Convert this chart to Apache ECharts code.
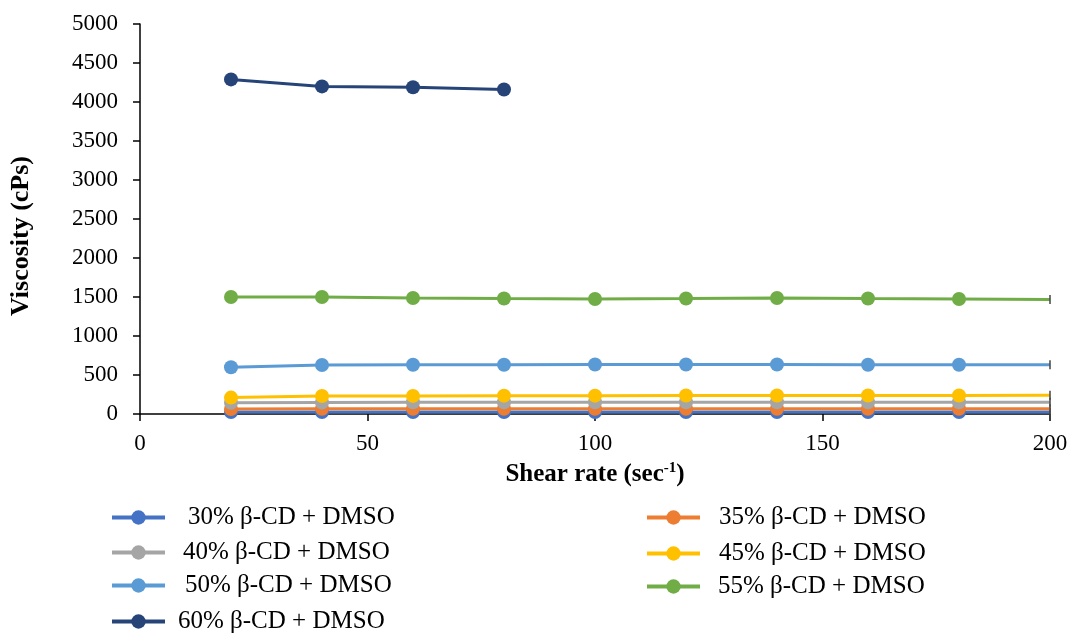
<!DOCTYPE html>
<html>
<head>
<meta charset="utf-8">
<script src="https://cdn.jsdelivr.net/npm/echarts@6/dist/echarts.min.js"></script>
<style>
  html, body { margin: 0; padding: 0; background: #fff; }
  #chart { width: 1074px; height: 639px; }
</style>
</head>
<body>
<div id="chart"></div>
<script>
// Shear rate (sec^-1) sample points
const shearRates = [20, 40, 60, 80, 100, 120, 140, 160, 180, 200];

// Viscosity (cPs) for each beta-CD concentration in DMSO
const cd30 = [25, 25, 25, 25, 25, 25, 25, 25, 25, 25];
const cd35 = [65, 68, 68, 68, 68, 68, 68, 68, 68, 68];
const cd40 = [145, 148, 150, 150, 150, 150, 150, 150, 150, 150];
const cd45 = [210, 230, 232, 235, 235, 238, 238, 238, 238, 240];
const cd50 = [600, 628, 632, 632, 635, 635, 635, 632, 632, 632];
const cd55 = [1500, 1500, 1488, 1480, 1475, 1480, 1487, 1480, 1475, 1468];
const cd60 = [4290, 4200, 4190, 4160];

const seriesNames = [
  '30% β-CD + DMSO', '35% β-CD + DMSO', '40% β-CD + DMSO', '45% β-CD + DMSO',
  '50% β-CD + DMSO', '55% β-CD + DMSO', '60% β-CD + DMSO'
];
const seriesValues = [cd30, cd35, cd40, cd45, cd50, cd55, cd60];
const colors = ['#4472C4', '#ED7D31', '#A5A5A5', '#FFC000', '#5B9BD5', '#70AD47', '#264478'];

const yTicks = [0, 500, 1000, 1500, 2000, 2500, 3000, 3500, 4000, 4500, 5000];
const xTicks = [0, 50, 100, 150, 200];

const serif = '"Liberation Serif", "Times New Roman", serif';

function buildData(vals) {
  return vals.map((v, i) => {
    const x = shearRates[i];
    if (x === 200) {
      // end point of the curve: a thin tick instead of a round marker
      return { value: [x, v], symbol: 'rect', symbolSize: [1.5, 9], itemStyle: { color: '#444' } };
    }
    return [x, v];
  });
}

const series = seriesNames.map((name, k) => ({
  name: name,
  type: 'line',
  data: buildData(seriesValues[k]),
  symbol: 'circle',
  symbolSize: 14,
  showAllSymbol: true,
  lineStyle: { width: 3, color: colors[k] },
  itemStyle: { color: colors[k] },
  emphasis: { disabled: true },
  animation: false,
  z: 2 + k
}));

// legend entries: [series index, left, top, text offset]
const legendSlots = [
  [0, 105, 500, 18],
  [2, 105, 535, 13],
  [4, 105, 568, 15],
  [6, 105, 604, 8],
  [1, 640, 500, 14],
  [3, 640, 536, 14],
  [5, 640, 569, 13]
];

const legends = legendSlots.map(([idx, left, top, pad]) => ({
  orient: 'vertical',
  left: left,
  top: top,
  itemWidth: 53,
  itemHeight: 18,
  lineStyle: { width: 4 },
  selectedMode: false,
  textStyle: {
    fontFamily: serif,
    fontSize: 25,
    color: '#000',
    padding: [0, 0, 0, pad]
  },
  data: [seriesNames[idx]]
}));

const chart = echarts.init(document.getElementById('chart'), null, { renderer: 'canvas' });
chart.setOption({
  backgroundColor: '#fff',
  color: colors,
  animation: false,
  grid: { left: 140, right: 24, top: 24, bottom: 225, containLabel: false },
  xAxis: {
    type: 'value',
    min: xTicks[0],
    max: xTicks[xTicks.length - 1],
    interval: 50,
    name: '{t|Shear rate (sec}{s|-1}{t|)}',
    nameLocation: 'middle',
    nameGap: 47,
    nameTextStyle: {
      rich: {
        t: { fontFamily: serif, fontSize: 25, fontWeight: 'bold', color: '#000' },
        s: { fontFamily: serif, fontSize: 15, fontWeight: 'bold', color: '#000', verticalAlign: 'top', padding: [0, 0, 12, 0] }
      }
    },
    axisLine: { show: true, lineStyle: { color: '#000', width: 1.5 } },
    axisTick: { show: true, inside: false, length: 7, lineStyle: { color: '#000', width: 1.5 } },
    axisLabel: { fontFamily: serif, fontSize: 23, color: '#000', margin: 18 },
    splitLine: { show: false }
  },
  yAxis: {
    type: 'value',
    min: yTicks[0],
    max: yTicks[yTicks.length - 1],
    interval: 500,
    name: 'Viscosity (cPs)',
    nameLocation: 'middle',
    nameGap: 106,
    nameTextStyle: {
      fontFamily: serif, fontSize: 26, fontWeight: 'bold', color: '#000',
      padding: [0, 34, 0, 0]
    },
    axisLine: { show: true, lineStyle: { color: '#000', width: 1.5 } },
    axisTick: { show: true, inside: false, length: 7, lineStyle: { color: '#000', width: 1.5 } },
    axisLabel: {
      fontFamily: serif, fontSize: 23, color: '#000', margin: 22,
      formatter: (v) => String(v)
    },
    splitLine: { show: false }
  },
  legend: legends,
  series: series
});
</script>
</body>
</html>
